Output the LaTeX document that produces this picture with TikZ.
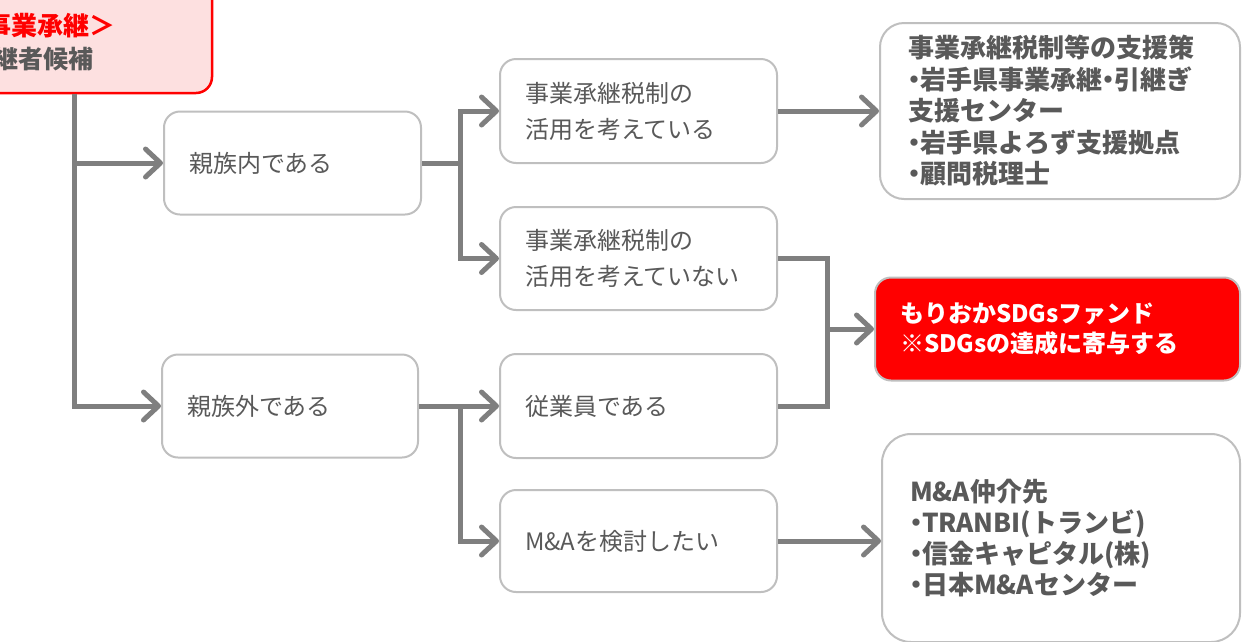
\documentclass[tikz,border=0pt]{standalone}
\usepackage{fontspec}
\setmainfont{Noto Sans CJK JP}
\usetikzlibrary{arrows.meta}
\definecolor{tgray}{HTML}{595959}
\definecolor{lgray}{HTML}{7F7F7F}
\definecolor{bgray}{HTML}{BFBFBF}
\definecolor{pinkf}{HTML}{FDE0E0}
\definecolor{redc}{HTML}{FF0000}
\newcommand\nk{\leavevmode\kern-7pt・\kern-7pt}
\newcommand\fs[2]{\fontsize{#1}{#2}\selectfont}
\begin{document}
\begin{tikzpicture}[x=1pt,y=-1pt,
 box/.style={draw=bgray, line width=2pt, fill=white, text=tgray, align=left, inner xsep=25pt, inner ysep=0pt, rounded corners=16pt},
 conn/.style={draw=lgray, line width=5pt, -{Straight Barb[length=15pt,width=28pt,line cap=round,line join=round]}},
 wire/.style={draw=lgray, line width=5pt}]
\useasboundingbox (0,0) rectangle (1242,641);
\clip (0,0) rectangle (1242,641);

% top-left box
\node[draw=redc, line width=2.5pt, fill=pinkf, rounded corners=16pt, minimum width=240pt, minimum height=120pt, inner sep=0pt] (top) at (92,33) {};
\node[anchor=east, inner sep=0pt, text=redc, font=\bfseries\fs{26}{30}] (t1) at (116,26) {事業承継＞};
\node[anchor=east, inner sep=0pt, text=tgray, font=\bfseries\fs{25}{30}] (t2) at (94,59) {継者候補};

% second column
\node[box, minimum height=103pt, text width=207pt, font=\fs{24}{36}] (b1) at (292.5,163) {親族内である};
\node[box, minimum height=103pt, text width=206pt, font=\fs{24}{36}] (b2) at (290,406) {親族外である};

% third column
\node[box, minimum height=104pt, text width=227pt, font=\fs{24}{36}] (c1) at (638.5,111) {事業承継税制の\\活用を考えている};
\node[box, minimum height=103pt, text width=227pt, font=\fs{24}{36}] (c2) at (638.5,258.5) {事業承継税制の\\活用を考えていない};
\node[box, minimum height=104pt, text width=227pt, font=\fs{24}{36}] (c3) at (638.5,406) {従業員である};
\node[box, minimum height=102pt, text width=227pt, font=\fs{24}{36}] (c4) at (638.5,541) {M\&Aを検討したい};

% right column
\node[box, rounded corners=24pt, inner xsep=28pt, minimum height=176pt, text width=304pt, font=\bfseries\fs{26}{31.5}] (r1) at (1060,111)
 {事業承継税制等の支援策\\\nk 岩手県事業承継\nk 引継ぎ\\支援センター\\\nk 岩手県よろず支援拠点\\\nk 顧問税理士};
\node[box, fill=redc, text=white, minimum height=103pt, text width=315pt, font=\bfseries\fs{24}{30}] (r2) at (1057.5,329)
 {もりおかSDGsファンド\\※SDGsの達成に寄与する};
\node[box, rounded corners=29pt, inner xsep=28pt, minimum height=208pt, text width=302pt, font=\bfseries\fs{26}{31}] (r3) at (1061,538)
 {M\&A仲介先\\\nk TRANBI(トランビ)\\\nk 信金キャピタル(株)\\\nk 日本M\&Aセンター};

% connectors
\coordinate (jx0) at (74,0);
\coordinate (jx1) at (460,0);
\coordinate (jx3) at (827,0);
\draw[conn] (top.south -| jx0) |- (b2.west);
\draw[conn] (b1.west -| jx0) -- (b1.west);
\draw[conn] (b1.east) -- (b1.east -| jx1) |- (c1.west);
\draw[conn] (b1.east -| jx1) |- (c2.west);
\draw[conn] (b2.east) -- (c3.west);
\draw[conn] (b2.east -| jx1) |- (c4.west);
\draw[conn] (c1.east) -- (c1.east -| r1.west);
\draw[wire] (c2.east) -| (c3.east -| jx3) -- (c3.east);
\draw[conn] (r2.west -| jx3) -- (r2.west);
\draw[conn] (c4.east) -- (c4.east -| r3.west);
\end{tikzpicture}
\end{document}
